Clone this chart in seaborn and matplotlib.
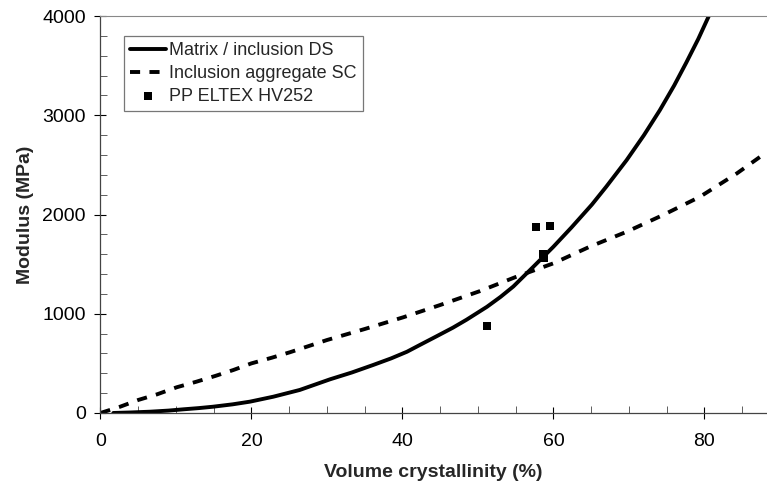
"""
Modulus vs volume crystallinity
"""

import numpy as np
import pandas as pd
import matplotlib
matplotlib.use("Agg")
import matplotlib.pyplot as plt
from matplotlib.ticker import MultipleLocator
import seaborn as sns

# Matrix / inclusion DS
ds_x = [1.7, 4.0, 6.6, 9.0, 11.0, 13.0, 14.9, 17.5, 19.8, 22.9, 26.4,
        30.4, 33.3, 36.1, 38.5, 40.6, 42.3, 44.5, 46.7, 48.5, 51.2,
        53.0, 54.7, 57.3, 60.0, 62.4, 65.1, 67.0, 69.7, 72.0, 74.1, 76.0,
        77.6, 79.2, 80.7]
ds_y = [0, 5, 13, 24, 37, 49, 63, 87, 114, 164, 232,
        339, 408, 483, 550, 617, 685, 772, 860, 940, 1070,
        1170, 1275, 1470, 1675, 1870, 2100, 2280, 2548, 2800, 3051, 3300,
        3530, 3770, 4018]

# Inclusion aggregate SC
sc_x = [0.0, 2.6, 5.0, 7.5, 10.1, 12.7, 15.2, 17.6, 20.0, 22.7, 25.1,
        30.0, 35.0, 40.1, 45.0, 50.3, 55.0, 60.0, 64.8, 69.7, 74.5,
        79.4, 84.3, 88.3]
sc_y = [0, 63, 131, 188, 259, 315, 373, 433, 500, 557, 612,
        735, 846, 964, 1088, 1229, 1370, 1508, 1675, 1826, 1994,
        2178, 2414, 2631]

# PP ELTEX HV252 measurements
pp_x = [51.2, 57.7, 58.6, 58.8, 59.5]
pp_y = [876, 1876, 1600, 1560, 1883]

sns.set_theme(style="white")
plt.rcParams["font.family"] = ["Liberation Sans", "DejaVu Sans"]

fig = plt.figure(figsize=(7.67, 4.87), dpi=100)
ax = fig.add_axes([0.131, 0.152, 0.869, 0.815])

ds = pd.DataFrame({"x": ds_x, "y": ds_y})
sc = pd.DataFrame({"x": sc_x, "y": sc_y})
pp = pd.DataFrame({"x": pp_x, "y": pp_y})

sns.lineplot(data=ds, x="x", y="y", ax=ax, color="black", lw=2.8,
             label="Matrix / inclusion DS", sort=False)
sns.lineplot(data=sc, x="x", y="y", ax=ax, color="black", lw=2.8,
             label="Inclusion aggregate SC", sort=False)
ax.lines[1].set_dashes((2.6, 2.4))
sns.scatterplot(data=pp, x="x", y="y", ax=ax, color="black", marker="s",
                s=40, edgecolor="black", linewidth=0, label="PP ELTEX HV252",
                zorder=5)

ax.set_xlim(0, 88.3)
ax.set_ylim(0, 4000)
ax.xaxis.set_major_locator(MultipleLocator(20))
ax.xaxis.set_minor_locator(MultipleLocator(5))
ax.yaxis.set_major_locator(MultipleLocator(1000))
ax.yaxis.set_minor_locator(MultipleLocator(200))
ax.tick_params(which="major", direction="inout", length=9, width=0.8,
               labelsize=14, colors="black", pad=6)
ax.tick_params(which="minor", direction="in", length=5, width=0.6,
               colors="#444444")
ax.tick_params(axis="x", which="major", pad=10)
ax.tick_params(axis="both", which="both", bottom=True, left=True)

ax.set_xlabel("Volume crystallinity (%)", fontsize=14, fontweight="bold",
              labelpad=10)
ax.set_ylabel("Modulus (MPa)", fontsize=14, fontweight="bold", labelpad=6)

for side in ["left", "bottom"]:
    ax.spines[side].set_color("#444444")
    ax.spines[side].set_linewidth(0.9)
ax.spines["right"].set_visible(False)
ax.spines["top"].set_color("#888888")
ax.spines["top"].set_linestyle((0, (1, 1)))
ax.spines["top"].set_linewidth(0.8)

leg = ax.legend(loc="upper left", bbox_to_anchor=(0.035, 0.95), fontsize=13,
                frameon=True, fancybox=False, handlelength=2.0,
                handletextpad=0.15, borderpad=0.35, labelspacing=0.32,
                borderaxespad=0)
leg.get_frame().set_edgecolor("#555555")
leg.get_frame().set_linewidth(0.9)
leg.legend_handles[2].set_sizes([40])

fig.savefig("out.png", dpi=100)
